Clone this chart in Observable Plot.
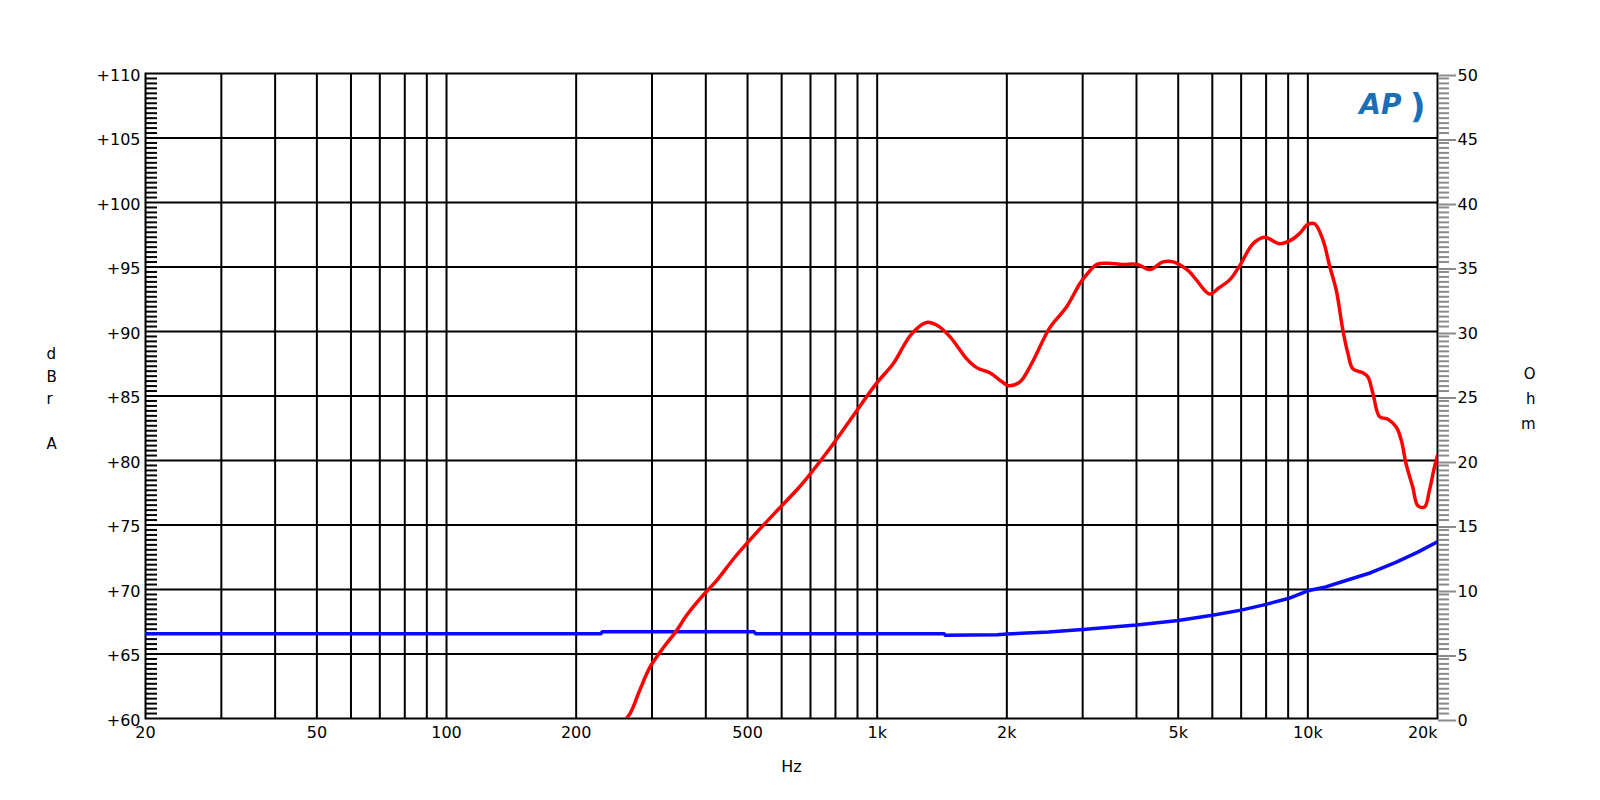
<!DOCTYPE html>
<html>
<head>
<meta charset="utf-8">
<script src="https://cdn.jsdelivr.net/npm/d3@7"></script>
<script src="https://cdn.jsdelivr.net/npm/@observablehq/plot@0.6"></script>
<style>
  html, body { margin: 0; padding: 0; background: #fff; }
  #chart svg { display: block; }
</style>
</head>
<body>
<div id="chart"></div>
<script>
// ---- Data ----
// SPL response (dBrA) vs frequency (Hz)
const splFreq = [258, 267, 281, 297, 319, 342, 361, 388, 424, 467, 521, 581, 666, 763, 864, 997, 1089, 1201, 1302, 1374, 1475, 1612, 1702, 1826, 1950, 2014, 2145, 2282, 2517, 2751, 2954, 3062, 3236, 3417, 3707, 4021, 4294, 4611, 4868, 5283, 5509, 5915, 6224, 6584, 6946, 7459, 7936, 8600, 9155, 9569, 10000, 10370, 10840, 11230, 11640, 12060, 12390, 12720, 13420, 13780, 14160, 14670, 15340, 16040, 16470, 16920, 17530, 18000, 18660, 19160, 19680, 20000];
const splDb = [59.8, 60.4, 62.2, 64.0, 65.5, 66.8, 68.0, 69.3, 70.7, 72.5, 74.3, 76.0, 78.1, 80.6, 83.1, 86.0, 87.5, 89.8, 90.7, 90.5, 89.6, 87.9, 87.2, 86.8, 86.1, 85.8, 86.1, 87.5, 90.3, 91.9, 93.7, 94.4, 95.2, 95.3, 95.2, 95.2, 94.8, 95.4, 95.4, 94.7, 94.0, 92.9, 93.4, 94.0, 95.1, 96.8, 97.3, 96.8, 97.1, 97.6, 98.3, 98.35, 97.1, 95.1, 93.2, 90.1, 88.3, 87.1, 86.8, 86.5, 85.2, 83.4, 83.2, 82.6, 81.6, 79.7, 77.9, 76.5, 76.4, 77.7, 79.5, 80.4];

// Impedance (Ohm) vs frequency (Hz)
const impFreq = [20, 228, 230, 518, 522, 1430, 1440, 1900, 2000, 2500, 3000, 4000, 5000, 6000, 7000, 8000, 9000, 10000, 11000, 12000, 14000, 16000, 18000, 20000];
const impOhm = [6.57, 6.57, 6.72, 6.72, 6.57, 6.57, 6.45, 6.5, 6.55, 6.7, 6.9, 7.25, 7.6, 8.0, 8.4, 8.85, 9.3, 9.9, 10.2, 10.6, 11.3, 12.1, 12.9, 13.7];

// Tick labels
const freqTicks = [20, 50, 100, 200, 500, 1000, 2000, 5000, 10000];
const freqTickLabels = ["20", "50", "100", "200", "500", "1k", "2k", "5k", "10k"];
const lastFreqTick = [20000];
const lastFreqTickLabel = ["20k"];
const dbTicks = [60, 65, 70, 75, 80, 85, 90, 95, 100, 105, 110];
const dbTickLabels = ["+60", "+65", "+70", "+75", "+80", "+85", "+90", "+95", "+100", "+105", "+110"];
const ohmTickLabels = ["0", "5", "10", "15", "20", "25", "30", "35", "40", "45", "50"];
const gridFreqs = [30, 40, 50, 60, 70, 80, 90, 100, 200, 300, 400, 500, 600, 700, 800, 900, 1000, 2000, 3000, 4000, 5000, 6000, 7000, 8000, 9000, 10000];
const gridDb = [65, 70, 75, 80, 85, 90, 95, 100, 105];

// ---- Derived tables ----
const spl = splFreq.map((f, i) => ({f, v: splDb[i]}));
// impedance shares the frame: 0..50 Ohm maps onto 60..110 dB
const OHM_OFFSET = 60;
const imp = impFreq.map((f, i) => ({f, v: impOhm[i] + OHM_OFFSET}));
const minorTicks = d3.range(60, 110.001, 5 / 13).filter(d => Math.abs(d / 5 - Math.round(d / 5)) > 1e-6);
const xLab = freqTicks.map((f, i) => ({f, t: freqTickLabels[i]}));
const xLabLast = lastFreqTick.map((f, i) => ({f, t: lastFreqTickLabel[i]}));

const chart = Plot.plot({
  width: 1600,
  height: 800,
  marginLeft: 145,
  marginRight: 163,
  marginTop: 73,
  marginBottom: 82,
  x: {type: "log", domain: [20, 20000], axis: null},
  y: {domain: [60, 110], axis: null},
  style: {fontFamily: "DejaVu Sans, sans-serif", fontSize: "16px", background: "white", color: "black"},
  marks: [
    // grid
    Plot.ruleX(gridFreqs, {stroke: "black", strokeWidth: 2}),
    Plot.ruleY(gridDb, {stroke: "black", strokeWidth: 2}),
    Plot.frame({stroke: "black", strokeWidth: 2}),
    // left minor ticks (inward)
    Plot.axisY({anchor: "left", label: null, ticks: minorTicks, tickSize: 12, dx: 12, tickFormat: () => "", stroke: "black", strokeWidth: 2}),
    // left labels
    Plot.axisY({anchor: "left", label: null, ticks: dbTicks, tickSize: 0, tickPadding: 5, dy: 2, tickFormat: (d) => dbTickLabels[dbTicks.indexOf(d)], fill: "black", fontSize: 16}),
    // right minor ticks (outward, gray)
    Plot.axisY({anchor: "right", label: null, ticks: minorTicks, tickSize: 11, tickFormat: () => "", stroke: "#8a8a8a", strokeWidth: 2}),
    // right major ticks & ohm labels
    Plot.axisY({anchor: "right", label: null, ticks: dbTicks, tickSize: 18, tickPadding: 2, dy: 2, stroke: "#8a8a8a", strokeWidth: 2, tickFormat: (d) => ohmTickLabels[dbTicks.indexOf(d)], fill: "black", fontSize: 16}),
    // x labels
    Plot.text(xLab, {x: "f", text: "t", frameAnchor: "bottom", dy: 19, fill: "black", fontSize: 16}),
    Plot.text(xLabLast, {x: "f", text: "t", frameAnchor: "bottom", dy: 19, textAnchor: "end", fill: "black", fontSize: 16}),
    // axis titles
    Plot.text(["d\nB\nr\n\nA"], {frameAnchor: "left", dx: -99, dy: 1, lineHeight: 1.5, fontSize: 15, fill: "black"}),
    Plot.text(["O\nh\nm"], {frameAnchor: "right", dx: 98, dy: 0, lineHeight: 1.65, fontSize: 15, fill: "black"}),
    Plot.text(["Hz"], {frameAnchor: "bottom", dy: 53, fontSize: 16, fill: "black"}),
    // AP logo
    Plot.text(["AP"], {frameAnchor: "top-right", dx: -36, dy: 21, fontSize: 28, fontWeight: "bold", fontStyle: "italic", fill: "#1b6fb6"}),
    Plot.text([")"], {frameAnchor: "top-right", dx: -12, dy: 20, fontSize: 34, fontWeight: "bold", fill: "#1b6fb6"}),
    // curves
    Plot.line(imp, {x: "f", y: "v", stroke: "#0a0aff", strokeWidth: 3.5, clip: true}),
    Plot.line(spl, {x: "f", y: "v", stroke: "#ff0000", strokeWidth: 3.5, curve: "catmull-rom", clip: true})
  ]
});
document.getElementById("chart").appendChild(chart);
</script>
</body>
</html>
